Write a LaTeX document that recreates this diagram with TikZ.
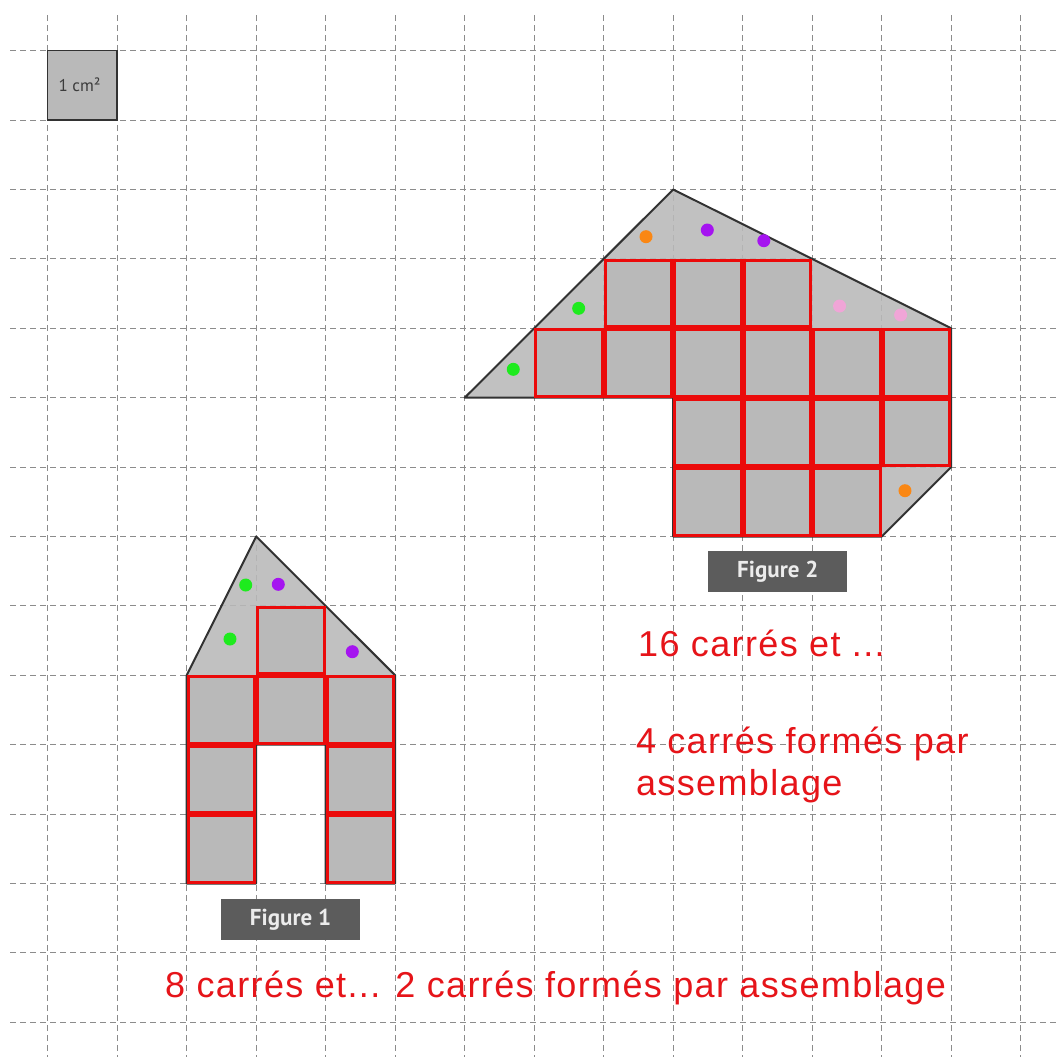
\documentclass[tikz,border=0pt]{standalone}
\usepackage{fontspec}
\setmainfont{Liberation Sans}
\newfontfamily\redfont[LetterSpace=3.8]{Liberation Sans}
\newfontfamily\labfont{PT Sans}
\definecolor{gridgray}{RGB}{140,140,140}
\definecolor{shapegray}{RGB}{185,185,185}
\definecolor{outlinegray}{RGB}{50,50,50}
\definecolor{sqred}{RGB}{235,10,10}
\definecolor{textred}{RGB}{230,20,25}
\definecolor{labelgray}{RGB}{92,92,92}
\definecolor{labeltext}{RGB}{236,236,236}
\definecolor{cmgray}{RGB}{60,60,60}
\definecolor{dgreen}{RGB}{30,235,30}
\definecolor{dpurple}{RGB}{165,20,240}
\definecolor{dorange}{RGB}{250,135,20}
\definecolor{dpink}{RGB}{240,165,215}
\begin{document}
\begin{tikzpicture}[x=69.5pt,y=-69.4pt,
  gridline/.style={draw=gridgray, line width=1pt, dash pattern=on 6pt off 4pt},
  shapefill/.style={fill=shapegray, fill opacity=0.88},
  outline/.style={draw=outlinegray, line width=2pt, line join=round},
  sq/.style={draw=sqred, line width=3pt, fill=shapegray},
  figlabel/.style={fill=labelgray, text=labeltext, font=\labfont\bfseries\fontsize{23}{23}\selectfont, minimum width=139pt, minimum height=41pt, inner sep=0pt},
  redtext/.style={text=textred, font=\redfont\fontsize{36}{42}\selectfont, inner sep=0pt, anchor=base west}
]
\useasboundingbox (-0.6863,-0.7305) rectangle (14.508,14.500);
\fill[white] (-0.6863,-0.7305) rectangle (14.508,14.500);
% grid
\foreach \i in {0,...,14} {
  \draw[gridline] (\i,-0.514) -- (\i,14.55);
  \draw[gridline] (-0.54,\i) -- (14.55,\i);
}
% unit square
\draw[fill=shapegray, draw=outlinegray, line width=1.5pt] (0,0) rectangle (1,1);
\node[text=cmgray, font=\labfont\fontsize{17}{17}\selectfont, inner sep=0pt] (unit) at (0.46,0.49) {1 cm²};
% figure 1
\fill[shapefill] (2,9) -- (3,7) -- (5,9) -- (5,12) -- (4,12) -- (4,10) -- (3,10) -- (3,12) -- (2,12) -- cycle;
\draw[outline] (2,9) -- (3,7) -- (5,9) -- (5,12) -- (4,12) -- (4,10) -- (3,10) -- (3,12) -- (2,12) -- cycle;
\foreach \x/\y in {3/8, 2/9, 3/9, 4/9, 2/10, 4/10, 2/11, 4/11}
  \draw[sq] ([xshift=1.5pt,yshift=-1.5pt]\x,\y) rectangle ([xshift=-1.5pt,yshift=1.5pt]\x+1,\y+1);
% figure 2
\fill[shapefill] (6,5) -- (9,2) -- (13,4) -- (13,6) -- (12,7) -- (9,7) -- (9,5) -- cycle;
\draw[outline] (6,5) -- (9,2) -- (13,4) -- (13,6) -- (12,7) -- (9,7) -- (9,5) -- cycle;
\foreach \x/\y in {8/3, 9/3, 10/3, 7/4, 8/4, 9/4, 10/4, 11/4, 12/4, 9/5, 10/5, 11/5, 12/5, 9/6, 10/6, 11/6}
  \draw[sq] ([xshift=1.5pt,yshift=-1.5pt]\x,\y) rectangle ([xshift=-1.5pt,yshift=1.5pt]\x+1,\y+1);
% dots figure 1
\fill[dgreen] (2.849,7.699) circle (6.5pt);
\fill[dpurple] (3.318,7.689) circle (6.5pt);
\fill[dgreen] (2.623,8.477) circle (6.5pt);
\fill[dpurple] (4.383,8.660) circle (6.5pt);
% dots figure 2
\fill[dorange] (8.609,2.680) circle (6.5pt);
\fill[dpurple] (9.491,2.584) circle (6.5pt);
\fill[dpurple] (10.304,2.738) circle (6.5pt);
\fill[dgreen] (7.640,3.712) circle (6.5pt);
\fill[dgreen] (6.699,4.591) circle (6.5pt);
\fill[dpink] (11.394,3.679) circle (6.5pt);
\fill[dpink] (12.272,3.808) circle (6.5pt);
\fill[dorange] (12.335,6.340) circle (6.5pt);
% labels
\node[figlabel] (fig1) at (3.494,12.519) {Figure 1};
\node[figlabel] (fig2) at (10.505,7.507) {Figure 2};
% texts
\node[redtext] (t16) at (8.494,8.732) {16 carrés et ...};
\node[redtext] (t4a) at (8.462,10.124) {4 carrés formés par};
\node[redtext] (t4b) at (8.462,10.725) {assemblage};
\node[redtext] (t8) at (1.688,13.640) {8 carrés et... 2 carrés formés par assemblage};
\end{tikzpicture}
\end{document}
